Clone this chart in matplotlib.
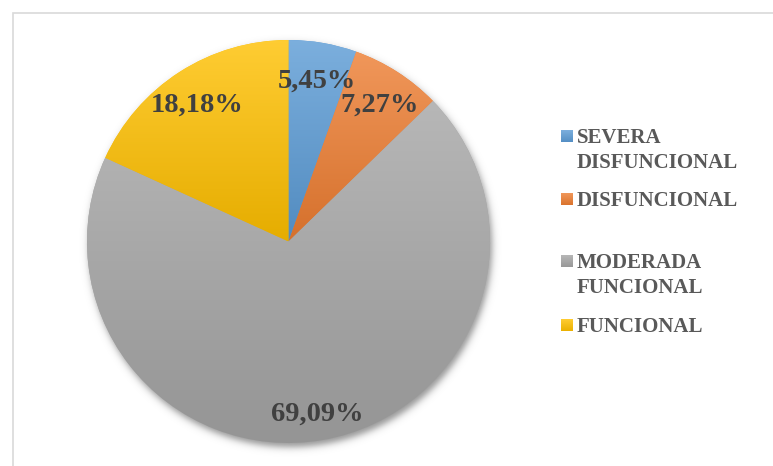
import numpy as np
import matplotlib
matplotlib.use("Agg")
import matplotlib.pyplot as plt
from matplotlib.patches import Rectangle
from matplotlib.colors import to_rgb

# Data
categories = ["SEVERA\nDISFUNCIONAL", "DISFUNCIONAL", "MODERADA\nFUNCIONAL", "FUNCIONAL"]
percentages = [5.45, 7.27, 69.09, 18.18]
colors = ["#5B9BD5", "#ED7D31", "#A5A5A5", "#FFC000"]

W, H = 773, 466
CX, CY, R = 288.5, H - 241.5, 201.5

plt.rcParams["font.family"] = ["Liberation Serif", "DejaVu Serif"]

fig = plt.figure(figsize=(W / 100, H / 100), dpi=100)
ax = fig.add_axes([0, 0, 1, 1])


def tint(c, f):
    c = np.array(to_rgb(c))
    return c + (1 - c) * f


def shade(c, f):
    return np.array(to_rgb(c)) * (1 - f)


def gradient_fill(ax, clip_patch, extent, top, bottom, z):
    n = 256
    t = np.linspace(0, 1, n)[:, None, None]
    img = top[None, None, :] * (1 - t) + bottom[None, None, :] * t
    im = ax.imshow(img, extent=extent, origin="upper", aspect="auto",
                   interpolation="bilinear", zorder=z)
    im.set_clip_path(clip_patch)
    return im


# Soft drop shadow under the pie
yy, xx = np.mgrid[0:H, 0:W]
d = np.hypot(xx - (CX + 1.5), (H - yy) - (CY - 3.5))
alpha = 0.42 / (1 + np.exp((d - R) / 2.2))
shadow = np.zeros((H, W, 4))
shadow[..., 3] = alpha
ax.imshow(shadow, extent=(0, W, 0, H), origin="upper", aspect="auto",
          interpolation="bilinear", zorder=1)

labels = [f"{p:.2f}".replace(".", ",") + "%" for p in percentages]
wedges, texts = ax.pie(
    percentages, colors=colors, startangle=90, counterclock=False,
    center=(CX, CY), radius=R, labels=labels, labeldistance=0.84,
    wedgeprops=dict(linewidth=0, zorder=2),
    textprops=dict(fontsize=20.5, fontweight="bold", color="#404040"),
)

for w, c in zip(wedges, colors):
    w.set_zorder(2)
    v = w.get_path().vertices
    ext = (v[:, 0].min(), v[:, 0].max(), v[:, 1].min(), v[:, 1].max())
    gradient_fill(ax, w, ext, tint(c, 0.2), shade(c, 0.1), 3)

for t in texts:
    x, y = t.get_position()
    t.set_position((x, y - 6))
    t.set_ha("center")
    t.set_va("center")
    t.set_zorder(5)

# Legend drawn beside the pie
legend_rows = [143, 206, 268.3, 331.7]  # first-line baselines (pixels from top)
line_step = 24.5
for cat, c, base in zip(categories, colors, legend_rows):
    top_y = H - (base - 13)
    sq = Rectangle((561, top_y - 12), 12, 12, linewidth=0, facecolor=c, zorder=4)
    ax.add_patch(sq)
    gradient_fill(ax, sq, (561, 573, top_y - 12, top_y), tint(c, 0.2), shade(c, 0.08), 5)
    for i, line in enumerate(cat.split("\n")):
        ax.text(577, H - (base + i * line_step), line, fontsize=15,
                fontweight="bold", color="#595959", ha="left", va="baseline",
                zorder=6)

# Chart-area border
ax.add_patch(Rectangle((12.5, -20), W + 20, H - 13 + 20, fill=False,
                       edgecolor="#d9d9d9", linewidth=1.2, zorder=0))

ax.set_xlim(0, W)
ax.set_ylim(0, H)
ax.set_aspect("auto")
ax.axis("off")

fig.savefig("out.png", dpi=100)
